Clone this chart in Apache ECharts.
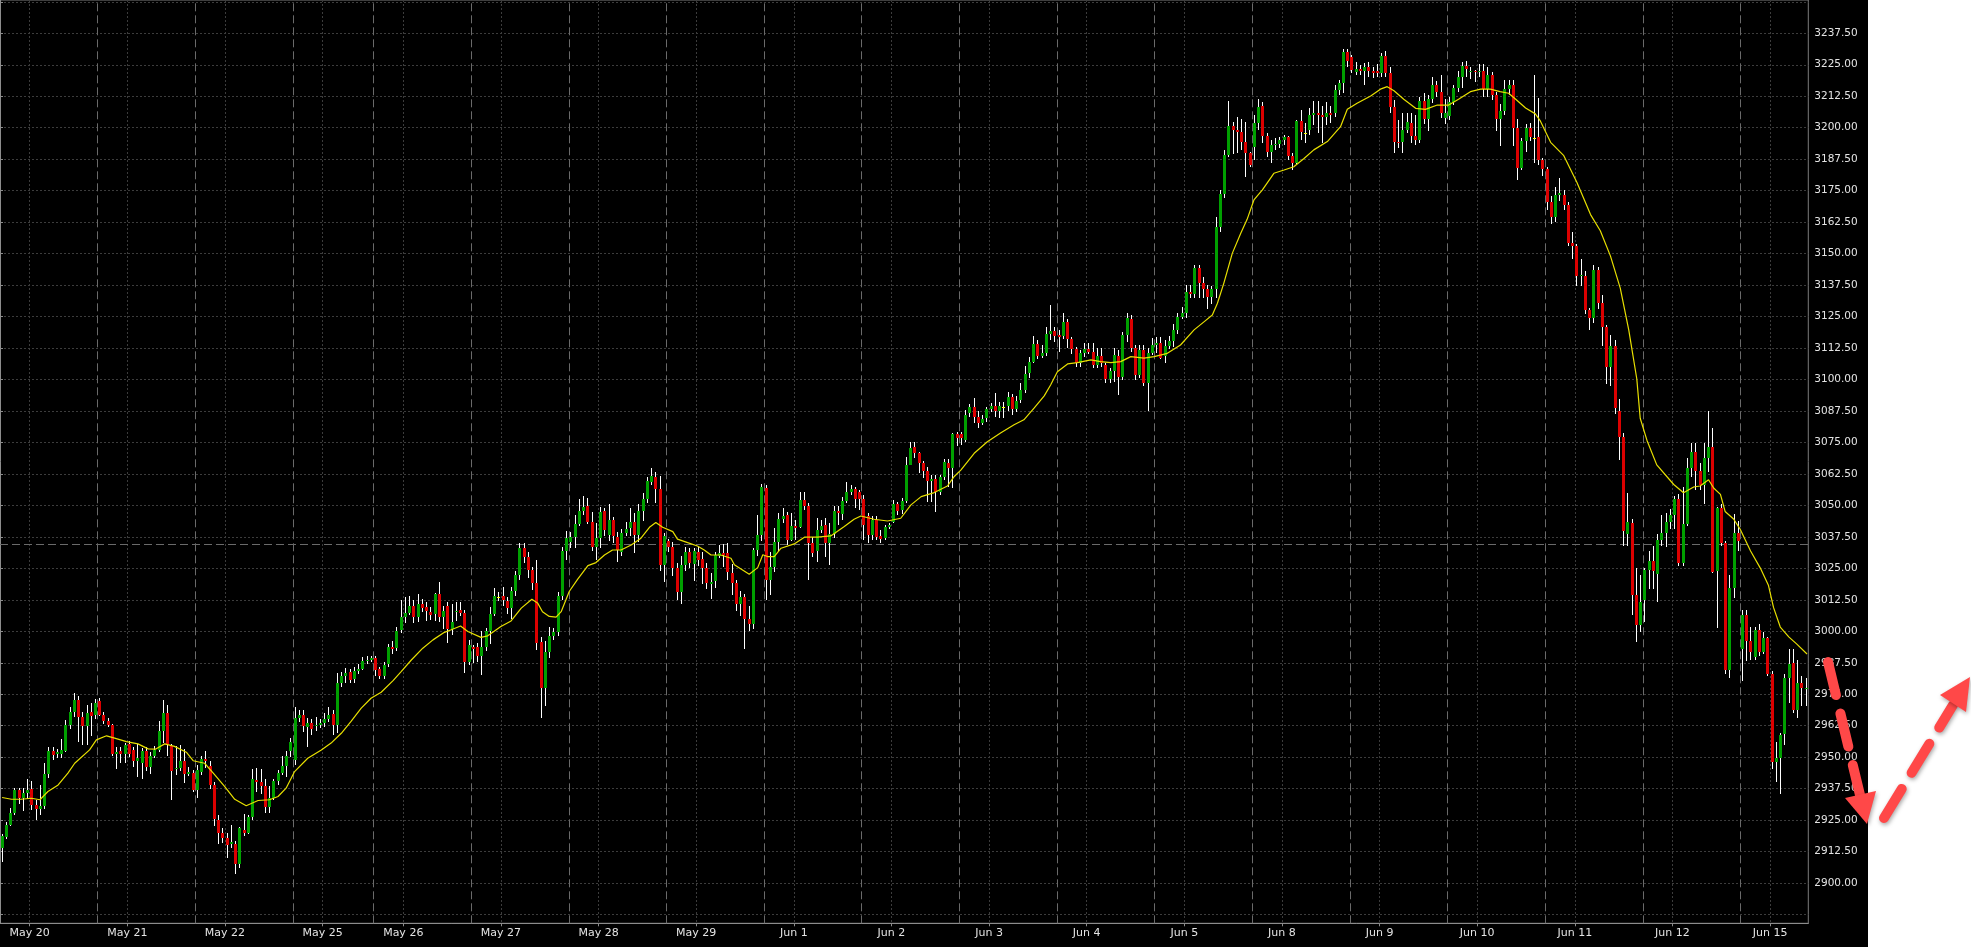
<!DOCTYPE html>
<html><head><meta charset="utf-8">
<script src="https://cdn.jsdelivr.net/npm/echarts@6.0.0/dist/echarts.min.js"></script>
<style>
html,body{margin:0;padding:0;background:#ffffff;overflow:hidden;}
#bg{position:absolute;left:0;top:0;width:1868px;height:947px;background:#000000;}
#c{position:absolute;left:0;top:0;width:1971px;height:947px;}
</style>
</head><body><div id="bg"></div><div id="c"></div>
<script>
// ---- data ----
const days = ['May 20','May 21','May 22','May 25','May 26','May 27','May 28','May 29','Jun 1','Jun 2','Jun 3','Jun 4','Jun 5','Jun 8','Jun 9','Jun 10','Jun 11','Jun 12','Jun 15'];
const dayBars = [23,23,23,19,23,23,23,23,23,23,23,23,23,23,23,23,23,23,16];
const yTickValues = [2887.5,2900,2912.5,2925,2937.5,2950,2962.5,2975,2987.5,3000,3012.5,3025,3037.5,3050,3062.5,3075,3087.5,3100,3112.5,3125,3137.5,3150,3162.5,3175,3187.5,3200,3212.5,3225,3237.5,3250];
const yLabelValues = [2900,2912.5,2925,2937.5,2950,2962.5,2975,2987.5,3000,3012.5,3025,3037.5,3050,3062.5,3075,3087.5,3100,3112.5,3125,3137.5,3150,3162.5,3175,3187.5,3200,3212.5,3225,3237.5];
const refLine = 3034.5;

const open = [
2914.0,2918.5,2923.2,2928.0,2937.0,2934.0,2935.6,2937.3,2931.1,2929.5,
2930.7,2943.4,2952.3,2951.2,2951.2,2952.5,2962.9,2968.0,2972.8,2965.8,
2962.2,2967.8,2966.6,2972.4,2966.8,2964.2,2962.9,2951.2,2952.3,2951.3,
2955.4,2952.9,2948.3,2947.6,2952.3,2946.0,2950.3,2952.7,2960.5,2967.6,
2954.3,2945.2,2945.9,2948.3,2943.5,2943.7,2936.8,2944.3,2949.2,2946.6,
2939.0,2925.1,2919.8,2918.1,2915.6,2915.6,2907.4,2921.2,2919.8,2926.3,
2941.0,2940.0,2938.6,2930.4,2934.0,2940.6,2943.9,2946.6,2952.3,2948.7,
2965.5,2966.8,2961.9,2963.7,2962.2,2962.9,2963.5,2965.2,2967.2,2962.9,
2979.4,2982.3,2984.0,2981.1,2984.3,2985.1,2988.1,2988.8,2989.3,2984.9,
2982.4,2987.1,2993.9,2993.3,3000.6,3005.5,3007.4,3010.1,3005.5,3010.9,
3009.8,3007.8,3006.9,3014.9,3005.5,3010.1,3001.1,3007.6,3008.5,3007.2,
2988.0,2993.7,2993.7,2990.2,2993.7,3000.2,3006.9,3013.8,3014.1,3012.1,
3009.4,3016.0,3022.4,3033.0,3029.7,3024.4,3019.1,2995.8,2977.4,2991.8,
2998.2,2999.8,3014.1,3031.7,3035.6,3037.6,3042.6,3047.8,3049.9,3043.6,
3033.6,3037.2,3047.8,3038.3,3044.2,3037.4,3031.3,3039.2,3041.0,3043.6,
3038.3,3047.8,3052.4,3059.2,3061.2,3056.5,3026.4,3035.9,3033.3,3025.3,
3015.8,3026.4,3031.4,3026.8,3031.4,3028.6,3025.3,3018.8,3020.1,3030.1,
3031.0,3031.0,3023.1,3019.1,3011.0,3013.5,3005.0,3003.0,3032.3,3038.3,
3057.0,3020.4,3025.5,3035.6,3044.5,3046.1,3036.3,3041.9,3041.6,3052.2,
3049.8,3035.2,3031.7,3040.3,3042.1,3035.2,3038.7,3047.6,3046.6,3051.9,
3055.5,3056.4,3055.5,3052.5,3045.6,3038.3,3044.2,3037.9,3036.9,3041.3,
3043.6,3050.6,3048.0,3051.9,3066.1,3073.1,3070.7,3066.8,3063.8,3059.5,
3060.5,3055.5,3061.1,3066.8,3065.0,3078.3,3078.3,3076.0,3086.6,3089.0,
3085.3,3082.9,3084.6,3088.2,3089.5,3087.3,3089.2,3089.5,3093.2,3088.2,
3091.9,3095.9,3102.5,3106.9,3114.1,3109.4,3110.7,3118.1,3119.3,3117.7,
3117.4,3122.9,3116.0,3112.0,3106.5,3110.4,3112.0,3111.1,3105.8,3109.4,
3105.8,3100.1,3103.5,3109.4,3100.9,3117.7,3123.9,3112.4,3101.8,3111.7,
3098.5,3110.4,3113.7,3114.4,3109.4,3113.4,3115.1,3119.7,3125.0,3126.6,
3134.9,3134.0,3144.2,3138.2,3135.8,3132.9,3135.8,3160.5,3173.7,3189.2,
3200.7,3199.1,3198.4,3194.5,3189.8,3192.5,3201.8,3208.6,3196.7,3190.5,
3193.2,3193.6,3195.1,3196.2,3188.8,3186.1,3202.8,3198.0,3199.1,3205.1,
3205.7,3205.1,3204.4,3205.7,3206.0,3215.0,3217.9,3230.1,3228.0,3222.3,
3223.2,3222.5,3224.2,3222.7,3222.7,3221.9,3228.5,3221.6,3208.1,3194.5,
3194.5,3199.1,3201.8,3196.7,3195.1,3210.5,3203.3,3211.3,3217.0,3214.3,
3203.9,3204.5,3210.4,3215.6,3220.1,3224.6,3222.1,3222.7,3222.1,3222.7,
3215.3,3221.1,3212.9,3203.6,3206.5,3215.3,3216.8,3200.0,3184.0,3194.8,
3200.0,3195.8,3196.2,3187.0,3183.7,3170.4,3164.6,3173.3,3173.3,3169.4,
3154.4,3152.9,3141.2,3141.2,3127.5,3124.6,3143.5,3130.4,3120.7,3105.1,
3113.5,3087.5,3077.2,3038.8,3043.2,3014.4,3002.6,3012.5,3024.4,3028.0,
3022.8,3036.3,3039.2,3043.6,3046.2,3052.4,3027.1,3042.7,3064.7,3071.1,
3063.5,3058.3,3069.0,3073.3,3023.8,3049.1,3034.9,2984.8,3017.3,3039.2,
2993.0,3006.6,2996.3,2989.9,3000.6,2991.6,2997.2,2983.2,2948.1,2949.6,
2959.4,2981.6,2987.3,2968.6,2979.3,2977.1
];
const high = [
2919.5,2924.4,2930.0,2937.7,2937.7,2937.7,2941.3,2940.6,2933.1,2939.0,
2947.9,2954.0,2953.9,2953.2,2957.3,2964.6,2970.1,2975.4,2974.4,2967.8,
2970.8,2971.7,2973.0,2973.4,2968.1,2965.5,2963.3,2954.0,2954.0,2955.8,
2956.5,2954.0,2955.2,2953.7,2954.0,2952.0,2954.3,2964.2,2972.8,2970.8,
2955.3,2954.3,2954.9,2953.2,2946.3,2945.0,2947.0,2950.3,2952.5,2948.6,
2940.2,2927.1,2921.8,2919.8,2923.2,2916.9,2922.1,2927.4,2927.1,2945.3,
2945.7,2945.3,2941.5,2938.4,2941.5,2945.0,2950.5,2952.5,2957.6,2970.1,
2968.8,2968.8,2965.5,2965.2,2965.9,2965.1,2967.5,2969.9,2968.8,2983.6,
2984.0,2985.4,2985.2,2986.0,2987.1,2989.7,2990.0,2990.0,2990.0,2986.0,
2988.0,2995.0,2996.0,3001.9,3012.5,3013.8,3014.1,3012.5,3014.9,3012.8,
3011.8,3009.5,3015.2,3019.4,3010.0,3011.8,3011.0,3011.5,3011.8,3008.5,
2996.5,2994.5,2995.2,3000.0,3001.5,3009.8,3017.1,3015.5,3017.5,3013.5,
3017.5,3024.0,3035.0,3034.9,3031.5,3025.5,3028.4,2997.6,2996.0,3001.9,
3001.5,3015.5,3033.6,3039.8,3039.5,3046.0,3052.4,3053.6,3053.0,3047.5,
3043.0,3049.5,3049.0,3050.5,3045.5,3039.5,3040.5,3043.3,3048.9,3046.8,
3050.5,3055.0,3061.3,3065.0,3063.3,3061.8,3039.0,3036.5,3035.5,3027.0,
3030.0,3033.3,3033.0,3033.2,3033.3,3031.4,3027.0,3023.0,3031.5,3034.4,
3034.7,3035.0,3026.8,3020.4,3016.0,3015.0,3010.0,3033.0,3046.0,3058.5,
3058.0,3031.3,3040.9,3047.1,3048.9,3047.2,3046.9,3044.2,3055.5,3055.2,
3050.9,3037.6,3044.9,3044.2,3044.9,3042.9,3049.8,3049.8,3053.5,3059.1,
3058.0,3057.5,3056.2,3054.2,3046.9,3045.6,3045.6,3040.3,3042.3,3043.0,
3052.2,3051.5,3053.0,3069.4,3075.3,3075.3,3071.3,3067.5,3065.4,3062.1,
3062.1,3062.1,3068.4,3068.4,3078.7,3079.3,3079.3,3087.7,3090.3,3092.6,
3087.3,3086.0,3089.2,3090.6,3094.5,3091.2,3091.2,3095.2,3094.3,3093.5,
3098.5,3105.4,3109.1,3117.3,3115.7,3113.7,3120.7,3129.6,3121.0,3119.7,
3126.6,3123.9,3117.0,3113.1,3111.8,3114.4,3114.4,3114.4,3112.4,3112.4,
3106.5,3104.5,3112.4,3111.8,3119.0,3126.6,3125.6,3113.7,3113.7,3113.7,
3112.4,3116.4,3117.0,3117.0,3115.7,3117.3,3122.0,3126.6,3128.6,3137.6,
3137.6,3145.5,3145.5,3140.9,3137.6,3137.0,3164.7,3175.3,3191.2,3210.7,
3202.4,3204.4,3203.3,3202.4,3190.5,3205.1,3211.3,3210.3,3197.8,3195.1,
3196.0,3196.5,3197.1,3196.7,3189.8,3203.1,3207.0,3202.0,3207.7,3210.7,
3210.7,3208.6,3210.3,3208.6,3217.0,3219.0,3231.1,3231.1,3229.0,3226.2,
3225.0,3225.8,3226.2,3224.2,3225.5,3229.5,3230.6,3224.2,3211.0,3203.1,
3205.7,3206.0,3205.7,3205.1,3212.0,3213.9,3213.0,3220.3,3218.5,3221.0,
3211.4,3212.3,3217.0,3222.7,3226.0,3226.5,3224.0,3223.0,3225.4,3225.4,
3224.0,3222.1,3214.0,3209.4,3218.8,3218.8,3218.8,3203.6,3196.0,3201.6,
3202.0,3221.1,3211.7,3188.0,3184.4,3172.7,3176.3,3180.2,3175.3,3170.4,
3158.7,3154.0,3148.0,3143.1,3128.5,3145.4,3144.6,3133.4,3121.6,3117.8,
3115.8,3092.4,3078.7,3054.9,3044.6,3025.1,3022.2,3025.0,3031.9,3033.9,
3038.8,3046.0,3047.1,3048.5,3053.8,3054.4,3057.3,3069.0,3074.9,3074.9,
3067.0,3074.9,3087.5,3080.7,3049.5,3050.5,3035.9,3022.2,3046.6,3044.0,
3008.5,3008.5,3001.7,3001.7,3003.1,2999.8,2997.8,2984.2,2955.9,2959.8,
2983.0,2992.9,2992.9,2988.6,2982.2,2981.3
];
const low = [
2908.2,2917.5,2922.5,2927.0,2931.5,2928.8,2933.4,2929.1,2925.1,2927.1,
2929.5,2941.7,2949.0,2949.5,2949.5,2951.9,2961.3,2965.8,2956.0,2955.0,
2954.7,2958.6,2965.0,2966.5,2963.0,2962.0,2950.5,2945.4,2947.9,2947.9,
2950.0,2946.0,2942.3,2941.3,2944.5,2943.3,2949.5,2952.0,2955.6,2950.3,
2933.1,2943.0,2944.5,2939.7,2942.5,2936.0,2933.7,2943.0,2945.6,2937.5,
2922.8,2915.5,2916.0,2909.9,2914.0,2903.7,2906.0,2918.8,2919.4,2925.0,
2936.0,2935.3,2928.0,2928.0,2933.0,2939.0,2943.0,2942.1,2950.0,2947.0,
2964.0,2960.0,2953.9,2959.0,2960.5,2961.5,2962.0,2964.0,2958.9,2959.8,
2978.0,2979.5,2979.5,2979.4,2983.0,2984.5,2987.0,2988.0,2982.4,2981.0,
2981.0,2986.0,2991.0,2992.0,2999.2,3003.2,3006.5,3003.2,3003.5,3007.5,
3003.9,3004.5,3003.9,3003.5,3001.0,2995.5,2998.5,3004.0,3006.0,2983.4,
2986.5,2987.5,2988.0,2982.7,2992.0,2995.0,3006.1,3012.0,3010.0,3007.0,
3005.0,3014.0,3020.5,3027.0,3021.0,3016.5,2992.7,2965.5,2970.5,2989.3,
2996.6,2998.0,3012.5,3028.5,3033.0,3033.0,3042.0,3046.0,3042.5,3031.7,
3028.5,3033.0,3037.7,3036.0,3035.0,3027.5,3030.0,3038.0,3038.0,3031.0,
3035.5,3044.0,3051.0,3058.0,3051.0,3024.0,3019.7,3031.5,3022.0,3012.5,
3011.0,3024.0,3025.0,3020.0,3026.0,3018.8,3017.0,3013.0,3017.3,3029.0,
3025.7,3020.4,3014.5,3008.0,3006.0,2993.0,3000.0,3001.0,3030.0,3036.0,
3012.5,3014.5,3023.7,3031.7,3043.0,3034.3,3036.0,3036.3,3040.9,3048.0,
3020.2,3029.7,3027.7,3039.0,3029.7,3026.4,3037.0,3042.3,3044.2,3051.0,
3054.0,3048.9,3048.2,3036.3,3035.0,3036.3,3036.3,3035.0,3036.3,3040.5,
3043.0,3046.0,3046.5,3050.9,3066.0,3069.0,3062.8,3061.0,3051.5,3051.5,
3047.3,3054.0,3060.0,3057.5,3057.0,3073.6,3074.0,3075.3,3085.0,3082.6,
3080.6,3082.0,3083.0,3087.0,3085.3,3084.9,3084.6,3087.3,3085.9,3087.0,
3090.5,3094.5,3100.5,3106.4,3108.0,3108.4,3109.5,3115.7,3115.0,3111.1,
3116.0,3112.4,3110.0,3105.1,3105.0,3109.0,3110.0,3104.5,3104.5,3105.0,
3098.5,3098.5,3099.2,3093.9,3099.9,3115.0,3111.0,3100.0,3100.5,3097.5,
3087.3,3109.8,3110.4,3108.0,3106.5,3112.0,3113.0,3118.0,3124.0,3124.3,
3132.3,3132.3,3132.3,3132.3,3127.9,3130.0,3132.3,3158.5,3172.0,3188.5,
3189.5,3190.0,3191.0,3180.6,3184.5,3187.2,3199.0,3194.0,3188.5,3185.9,
3191.0,3192.0,3193.0,3187.2,3183.2,3185.0,3195.0,3194.0,3197.0,3201.0,
3197.8,3193.8,3201.0,3202.0,3204.4,3213.0,3213.7,3224.0,3221.6,3220.9,
3221.0,3217.0,3220.0,3219.6,3220.0,3220.0,3220.0,3206.0,3189.8,3192.0,
3190.1,3198.0,3193.8,3193.2,3194.0,3201.5,3198.7,3210.0,3212.0,3204.0,
3201.6,3203.0,3209.0,3214.0,3215.6,3220.0,3219.2,3218.2,3220.0,3212.3,
3212.3,3211.0,3198.7,3192.8,3205.0,3213.0,3192.8,3179.2,3183.1,3190.3,
3194.8,3186.0,3185.0,3181.0,3167.5,3161.6,3162.6,3171.0,3167.5,3152.9,
3148.0,3137.3,3137.0,3126.0,3119.7,3122.6,3128.0,3113.5,3098.3,3097.3,
3086.5,3068.0,3033.9,3033.9,3006.6,2995.9,2999.8,3003.7,3016.7,3016.7,
3011.5,3033.9,3033.3,3040.7,3040.7,3026.0,3026.0,3041.7,3061.2,3056.3,
3056.3,3050.5,3063.1,3023.2,3001.2,3033.9,2983.2,2981.6,3013.4,3031.9,
2980.3,2988.1,2988.6,2988.6,2990.0,2991.0,2982.2,2945.2,2940.3,2935.4,
2954.9,2971.5,2967.6,2965.7,2970.5,2970.5
];
const close = [
2918.9,2923.2,2928.0,2937.0,2934.0,2935.6,2937.0,2931.1,2929.4,2930.8,
2943.4,2952.5,2950.9,2951.9,2952.9,2962.9,2968.0,2972.8,2965.8,2962.2,
2967.5,2966.2,2971.7,2966.8,2964.2,2962.9,2951.3,2951.9,2951.3,2954.9,
2951.3,2948.3,2949.6,2952.3,2946.0,2950.3,2952.7,2960.5,2967.6,2955.3,
2944.7,2945.9,2948.3,2943.5,2944.0,2936.8,2945.0,2949.2,2948.3,2939.0,
2925.4,2919.8,2918.1,2915.1,2916.2,2907.4,2921.7,2919.8,2926.3,2941.3,
2940.0,2938.6,2930.4,2934.0,2940.6,2943.9,2946.6,2950.5,2956.2,2965.5,
2966.8,2962.2,2963.7,2961.1,2962.9,2963.6,2965.1,2966.8,2962.9,2979.4,
2982.3,2983.6,2980.7,2984.3,2985.1,2988.4,2988.6,2989.3,2984.7,2982.4,
2986.5,2993.7,2992.9,3000.3,3005.5,3007.4,3010.1,3005.5,3010.9,3009.4,
3008.2,3006.5,3014.9,3005.5,3008.0,3001.1,3003.5,3008.0,3007.4,2988.0,
2994.6,2992.9,2990.0,2993.7,3000.2,3006.9,3014.1,3013.8,3012.5,3009.4,
3016.0,3022.4,3033.0,3029.7,3024.4,3019.1,2995.5,2977.4,2991.8,2998.2,
2999.8,3014.1,3031.7,3037.0,3037.6,3042.6,3047.8,3049.5,3043.6,3033.6,
3037.2,3047.5,3040.3,3044.2,3038.0,3032.3,3039.2,3040.7,3043.6,3038.3,
3047.8,3052.4,3059.7,3061.7,3056.5,3026.4,3037.9,3033.3,3025.3,3015.8,
3026.4,3031.4,3027.0,3031.7,3028.4,3025.3,3019.1,3019.6,3030.3,3031.0,
3030.3,3023.7,3019.1,3011.0,3013.5,3005.0,3003.0,3032.3,3038.3,3057.5,
3020.4,3025.7,3035.4,3044.5,3045.8,3036.3,3041.9,3040.9,3052.2,3049.8,
3035.2,3031.0,3040.3,3041.9,3035.2,3038.7,3047.6,3046.9,3051.9,3055.5,
3056.4,3052.5,3052.5,3042.3,3038.3,3044.2,3037.6,3036.6,3041.3,3042.1,
3050.6,3047.6,3051.9,3066.1,3072.8,3070.7,3066.8,3063.8,3059.5,3060.5,
3055.5,3061.1,3067.3,3064.8,3078.3,3076.7,3076.7,3086.0,3089.2,3085.3,
3082.9,3084.5,3088.2,3089.5,3087.5,3089.5,3089.2,3093.0,3088.2,3091.6,
3095.9,3102.1,3106.9,3114.1,3109.5,3110.7,3118.1,3119.3,3117.4,3117.0,
3122.9,3116.0,3112.0,3106.5,3110.4,3112.0,3111.1,3105.8,3109.4,3106.5,
3100.1,3103.2,3109.8,3100.9,3117.7,3124.3,3112.4,3101.8,3111.7,3098.5,
3110.4,3113.7,3114.4,3108.5,3113.4,3115.1,3119.7,3125.0,3126.6,3134.9,
3134.0,3144.2,3138.2,3135.8,3132.9,3135.8,3160.5,3173.7,3189.2,3200.7,
3199.1,3198.4,3194.5,3189.8,3185.2,3201.8,3208.1,3196.7,3190.5,3193.2,
3193.6,3195.1,3196.2,3188.8,3186.1,3202.8,3198.4,3198.0,3205.1,3205.7,
3205.1,3204.4,3205.7,3205.1,3215.0,3217.9,3230.1,3226.6,3222.9,3223.2,
3222.5,3224.2,3222.7,3221.9,3221.9,3228.5,3221.6,3208.1,3194.5,3193.8,
3199.1,3202.4,3196.7,3195.1,3210.5,3203.3,3211.3,3217.0,3214.3,3205.9,
3205.9,3210.4,3215.6,3220.1,3224.6,3223.4,3222.7,3222.1,3222.7,3215.3,
3221.1,3212.9,3203.6,3206.5,3215.3,3216.8,3200.0,3184.0,3194.8,3200.0,
3196.2,3195.8,3187.0,3183.7,3170.4,3164.6,3173.3,3173.9,3169.4,3154.4,
3152.9,3141.2,3141.7,3127.5,3124.6,3143.5,3130.4,3120.7,3105.1,3113.5,
3088.5,3077.2,3039.8,3043.6,3014.4,3002.6,3011.5,3024.4,3028.0,3023.8,
3036.3,3039.2,3043.6,3046.2,3052.4,3027.1,3042.7,3064.7,3071.1,3063.5,
3058.3,3069.0,3073.3,3023.5,3049.1,3034.9,2984.8,3017.3,3039.2,3035.9,
3006.6,2996.3,2991.6,3000.6,2991.6,2997.3,2983.2,2948.1,2949.6,2958.8,
2981.6,2987.1,2968.6,2979.3,2977.3,2977.6
];
// moving average readings: [bar index, value]
const maPoints = [
[0,2934.0],[2.2,2933.3],[4.5,2933.3],[6.9,2933.7],[8.9,2933.1],[10.8,2936.4],[13.2,2939.0],[15.5,2943.7],[17.1,2947.6],[20.6,2952.9],
[22.2,2956.9],[24.6,2958.5],[26.5,2957.6],[29.3,2956.2],[32,2955.3],[34.4,2953.3],[36.1,2953.2],[38.3,2955.3],[40.6,2954.3],[43.4,2952.0],
[45,2948.6],[47.7,2947.6],[50.1,2943.0],[52.4,2938.4],[54.8,2933.3],[57.5,2930.7],[60.3,2932.8],[63,2933.1],[65,2934.4],[66.9,2937.7],
[68.9,2944.3],[72,2949.6],[75.2,2952.9],[77.5,2955.6],[79.9,2959.5],[82.2,2964.2],[84.6,2969.5],[86.9,2973.4],[89.3,2975.8],[92.1,2980.4],
[94,2984.0],[96.4,2988.6],[99.1,2993.3],[101.5,2996.6],[104.2,2999.6],[105.8,3000.6],[108,3002.1],[109.7,2999.9],[112.8,2997.6],[114.4,2998.2],
[117.5,3001.9],[119.9,3004.1],[122.3,3009.2],[124.8,3012.7],[126.2,3011.1],[127.3,3007.8],[128.9,3005.9],[130.5,3005.6],[131.7,3007.8],[133.6,3015.8],
[135.6,3020.7],[138,3026.1],[139.9,3027.3],[141.9,3030.3],[143.8,3032.3],[145.8,3032.3],[148.2,3034.3],[150.5,3037.0],[152.5,3041.3],[154,3043.2],
[155.6,3041.3],[158,3039.6],[159.1,3036.6],[161.5,3035.2],[163.8,3033.9],[165.4,3032.3],[167,3030.3],[169.3,3030.3],[171.7,3029.0],[172.5,3026.4],
[176,3022.7],[178,3025.3],[179.2,3030.4],[180.3,3029.7],[181.9,3029.7],[183.5,3033.0],[186.6,3034.7],[189,3037.4],[192.1,3037.4],[195.2,3037.9],
[198.4,3041.6],[200.7,3044.5],[202.3,3045.8],[205.4,3044.5],[208.6,3043.8],[211.7,3044.9],[214.1,3050.2],[216.5,3053.5],[219.6,3055.1],[222.7,3057.7],
[224.3,3061.5],[225.9,3064.1],[229,3070.7],[232.1,3075.3],[235.3,3078.9],[238.4,3082.0],[240.7,3084.0],[243.1,3088.6],[245.5,3093.5],[247,3097.8],
[248.6,3103.1],[251,3106.2],[253.3,3106.7],[256.5,3107.8],[258.8,3107.1],[261.2,3106.7],[263.5,3107.1],[265.9,3109.1],[269,3108.5],[271.4,3109.1],
[274.5,3110.4],[277.6,3113.7],[280.8,3119.7],[283.2,3123.0],[285.1,3125.6],[286.3,3130.3],[287.8,3138.2],[289.8,3150.1],[291.8,3158.1],[293.3,3163.6],
[294.9,3171.3],[296.9,3175.3],[299.6,3181.9],[302,3183.2],[304.3,3184.5],[306.7,3187.8],[309,3191.2],[312.2,3194.5],[315.3,3200.4],[316.9,3207.3],
[319.2,3209.7],[322.4,3212.6],[324.7,3215.3],[326.3,3216.3],[327.9,3214.7],[330.2,3211.3],[333,3207.7],[335.3,3207.3],[338.1,3209.0],[340.8,3209.0],
[343.2,3211.4],[345.9,3214.3],[348.3,3215.3],[350.6,3215.3],[352.9,3214.3],[354.9,3213.7],[356.5,3211.4],[358.9,3207.8],[361.2,3205.5],[362.4,3202.6],
[364.8,3194.2],[367.9,3188.9],[371,3178.2],[374.2,3165.5],[376.5,3159.1],[378.9,3149.0],[381.2,3136.3],[383.2,3119.7],[385.1,3100.2],[385.9,3084.6],
[387.5,3075.8],[389.8,3066.1],[393.8,3058.3],[396.1,3055.0],[398.5,3057.3],[400,3057.7],[402,3060.2],[403.2,3056.9],[404.8,3054.4],[405.9,3047.6],
[407.9,3044.6],[409.4,3040.7],[411.9,3031.9],[414.2,3025.1],[416.1,3018.3],[417.3,3009.5],[418.9,3001.7],[420.9,2997.8],[422.8,2994.9],[425.2,2991.0]
];

// ---- layout / style constants ----
const Y_MIN = 2884.04, Y_MAX = 3250.72;
const LABEL_OFFSET = 7;
const GREEN = '#00a000', RED = '#dc0000', DOJI = '#ffff00';

const N = open.length;
const dayStarts = [];
let acc = 0;
dayBars.forEach(n => { dayStarts.push(acc); acc += n; });
const labelPos = dayStarts.map(s => s + LABEL_OFFSET);

const candles = open.map((o, i) => [i + 0.5, o, close[i], low[i], high[i]]);
const maData = maPoints.map(p => [p[0] + 0.5, p[1]]);

function renderCandle(params, api) {
  const x = api.value(0), o = api.value(1), c = api.value(2), l = api.value(3), h = api.value(4);
  const pH = api.coord([x, h]), pL = api.coord([x, l]), pO = api.coord([x, o]), pC = api.coord([x, c]);
  const cx = Math.round(pH[0] - 0.5);
  const yh = Math.round(pH[1]), yl = Math.round(pL[1]);
  const top = Math.round(Math.min(pO[1], pC[1])), bot = Math.round(Math.max(pO[1], pC[1]));
  const color = o === c ? DOJI : (c > o ? GREEN : RED);
  return {
    type: 'group',
    children: [
      {type: 'rect', shape: {x: cx, y: yh, width: 1, height: Math.max(yl - yh, 1)}, style: {fill: '#ffffff'}},
      {type: 'rect', shape: {x: cx - 1, y: top, width: 3, height: Math.max(bot - top, 1)}, style: {fill: color}}
    ]
  };
}

const arrowColor = '#ff4848';
const arrowShadow = {shadowBlur: 4, shadowColor: 'rgba(0,0,0,0.35)', shadowOffsetX: 1, shadowOffsetY: 2};
const shaftStyle = Object.assign({stroke: arrowColor, lineWidth: 10, lineDash: [34, 19], lineCap: 'round', fill: null}, arrowShadow);

const chart = echarts.init(document.getElementById('c'));
chart.setOption({
  animation: false,
  backgroundColor: 'transparent',
  grid: {left: -1.9, right: 162.7, top: 0, bottom: 23.7, show: true, borderColor: '#7c7c7c', borderWidth: 1},
  xAxis: {
    type: 'value', min: 0, max: N, position: 'bottom',
    axisLine: {show: true, lineStyle: {color: '#8c8c8c', width: 1}},
    axisTick: {show: true, customValues: labelPos, length: 3, lineStyle: {color: '#8c8c8c'}},
    axisLabel: {customValues: labelPos, formatter: v => days[labelPos.indexOf(v)] || '',
      color: '#e4e4e4', fontFamily: 'DejaVu Sans', fontSize: 11, margin: 4},
    splitLine: {show: true, lineStyle: {color: '#3c3c3c', width: 1, type: [2, 2]}}
  },
  yAxis: {
    type: 'value', position: 'right', min: Y_MIN, max: Y_MAX,
    axisLine: {show: true, lineStyle: {color: '#8c8c8c', width: 1}},
    axisTick: {show: true, customValues: yTickValues, length: 3, lineStyle: {color: '#8c8c8c'}},
    axisLabel: {customValues: yLabelValues, formatter: v => v.toFixed(2),
      color: '#e4e4e4', fontFamily: 'DejaVu Sans', fontSize: 10.5, margin: 6},
    splitLine: {show: true, lineStyle: {color: '#3c3c3c', width: 1, type: [2, 2]}}
  },
  series: [
    {
      type: 'line', data: [], z: 1, silent: true,
      markLine: {
        z: 1, silent: true, symbol: ['none', 'none'], animation: false,
        label: {show: false},
        lineStyle: {color: '#6a6a6a', width: 1, type: [8, 4]},
        data: dayStarts.slice(1).map(v => ({xAxis: v})).concat([{yAxis: refLine}])
      }
    },
    {type: 'custom', renderItem: renderCandle, data: candles, clip: true, z: 3,
      encode: {x: 0, y: [1, 2, 3, 4]}},
    {type: 'line', data: maData, showSymbol: false, z: 4, silent: true,
      lineStyle: {color: '#e8e000', width: 1.2}}
  ],
  graphic: [
    {type: 'polyline', z: 100, shape: {points: [[1828, 662], [1860, 795]]}, style: shaftStyle},
    {type: 'polygon', z: 100, shape: {points: [[1867, 824], [1845, 798], [1876, 791]]},
      style: Object.assign({fill: arrowColor}, arrowShadow)},
    {type: 'polyline', z: 100, shape: {points: [[1884, 818], [1953, 705]]}, style: shaftStyle},
    {type: 'polygon', z: 100, shape: {points: [[1970, 677], [1940, 695], [1966, 712]]},
      style: Object.assign({fill: arrowColor}, arrowShadow)}
  ]
});
</script>
</body></html>
